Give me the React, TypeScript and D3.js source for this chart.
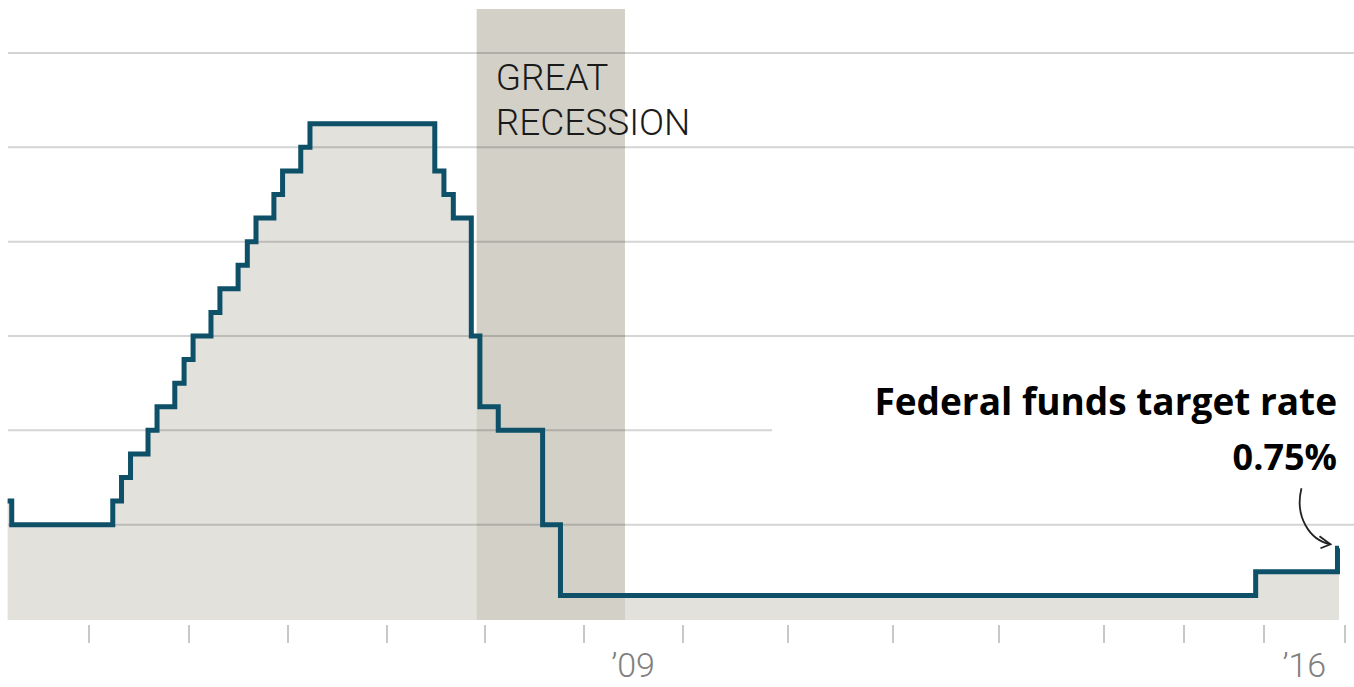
import React from "react";
import * as d3 from "d3";

// federal funds target rate (step changes)
const changeDates = [
  "2003-03-10", "2003-03-25", "2004-03-28", "2004-04-29", "2004-06-01",
  "2004-08-04", "2004-09-06", "2004-11-10", "2004-12-14", "2005-01-16",
  "2005-03-23", "2005-04-25", "2005-07-01", "2005-08-04", "2005-09-05",
  "2005-11-10", "2005-12-12", "2006-02-17", "2006-03-23", "2007-06-28",
  "2007-08-01", "2007-09-05", "2007-11-11", "2007-12-13", "2008-02-19",
  "2008-08-01", "2008-10-06", "2015-11-24", "2016-11-28", "2016-12-05",
];
const targetRate = [
  1.25, 1.0, 1.25, 1.5, 1.75,
  2.0, 2.25, 2.5, 2.75, 3.0,
  3.25, 3.5, 3.75, 4.0, 4.25,
  4.5, 4.75, 5.0, 5.25, 4.75,
  4.5, 4.25, 3.0, 2.25, 2.0,
  1.0, 0.25, 0.5, 0.75, 0.75,
];

const recession = ["2007-12-01", "2009-06-01"];
const yearTicks = [2004, 2005, 2006, 2007, 2008, 2009, 2010, 2011, 2012, 2013, 2014, 2015, 2016, 2017];
const labelYears = [2009, 2016];
const gridValues = [1, 2, 3, 4, 5, 6];

// layout
const W = 1354;
const H = 687;
// the source's year boundaries are not evenly spaced; pixel stops per year
const yearStops = [-11, 89, 189, 288, 387, 485, 584, 683, 788, 893, 999, 1104, 1184, 1264, 1345];
const baseY = 619;

const parse = d3.timeParse("%Y-%m-%d");

export default function App() {
  const data = changeDates.map((d, i) => ({ date: parse(d) as Date, value: targetRate[i] }));

  const x = d3
    .scaleTime()
    .domain([2003, ...yearTicks].map((y) => new Date(y, 0, 1)))
    .range(yearStops);
  const y = d3.scaleLinear().domain([0, 6]).range([baseY, 53]);

  const line = d3
    .line<{ date: Date; value: number }>()
    .x((d) => x(d.date))
    .y((d) => y(d.value))
    .curve(d3.curveStepAfter);
  const area = d3
    .area<{ date: Date; value: number }>()
    .x((d) => x(d.date))
    .y0(y(0) + 1)
    .y1((d) => y(d.value))
    .curve(d3.curveStepAfter);

  const recX0 = x(parse(recession[0]) as Date);
  const recX1 = x(parse(recession[1]) as Date);

  const last = data[data.length - 2];
  const ex = x(last.date);
  const ey = y(last.value);

  const font = "Roboto, 'Open Sans', sans-serif";
  const boldFont = "'Open Sans', Roboto, sans-serif";

  return (
    <svg
      width={W}
      height={H}
      style={{ position: "absolute", left: 0, top: 0, background: "#fff" }}
    >
      <path d={area(data) ?? ""} fill="#e2e1dc" />
      <rect x={recX0} y={9} width={recX1 - recX0} height={y(0) + 1 - 9} fill="#d3d0c8" />

      {gridValues.map((v) => (
        <line
          key={v}
          x1={8}
          x2={v === 2 ? 772 : W}
          y1={y(v)}
          y2={y(v)}
          stroke="rgba(0,0,0,0.17)"
          strokeWidth={2}
        />
      ))}

      <path
        d={line(data) ?? ""}
        fill="none"
        stroke="#0d5068"
        strokeWidth={5}
        strokeLinejoin="miter"
        strokeLinecap="butt"
      />

      {yearTicks.map((yr) => {
        const tx = x(new Date(yr, 0, 1));
        return (
          <line key={yr} x1={tx} x2={tx} y1={625} y2={643} stroke="#c8c8c8" strokeWidth={2} />
        );
      })}
      {labelYears.map((yr) => (
        <text
          key={yr}
          x={x(new Date(yr, 6, 1))}
          y={677}
          textAnchor="middle"
          fontFamily={font}
          fontWeight={300}
          fontSize={34}
          fill="#808080"
        >
          {"\u2019" + String(yr).slice(2)}
        </text>
      ))}

      <text x={recX0 + 19} y={90} fontFamily={font} fontWeight={300} fontSize={37} fill="#1a1a1a">
        GREAT
      </text>
      <text x={recX0 + 19} y={135} fontFamily={font} fontWeight={300} fontSize={37} fill="#1a1a1a">
        RECESSION
      </text>

      <text
        x={1337}
        y={415}
        textAnchor="end"
        fontFamily={boldFont}
        fontWeight={700}
        fontSize={37}
        fill="#000"
      >
        Federal funds target rate
      </text>
      <text
        x={1337}
        y={470}
        textAnchor="end"
        fontFamily={boldFont}
        fontWeight={700}
        fontSize={36}
        fill="#000"
      >
        0.75%
      </text>

      <path
        d={`M${ex - 36},${ey - 60} C${ex - 43},${ey - 32} ${ex - 28},${ey - 8} ${ex - 7},${ey - 4}`}
        fill="none"
        stroke="#222"
        strokeWidth={1.8}
      />
      <path
        d={`M${ex - 18},${ey - 12} L${ex - 7},${ey - 4} L${ex - 17},${ey}`}
        fill="none"
        stroke="#222"
        strokeWidth={1.8}
      />
    </svg>
  );
}
